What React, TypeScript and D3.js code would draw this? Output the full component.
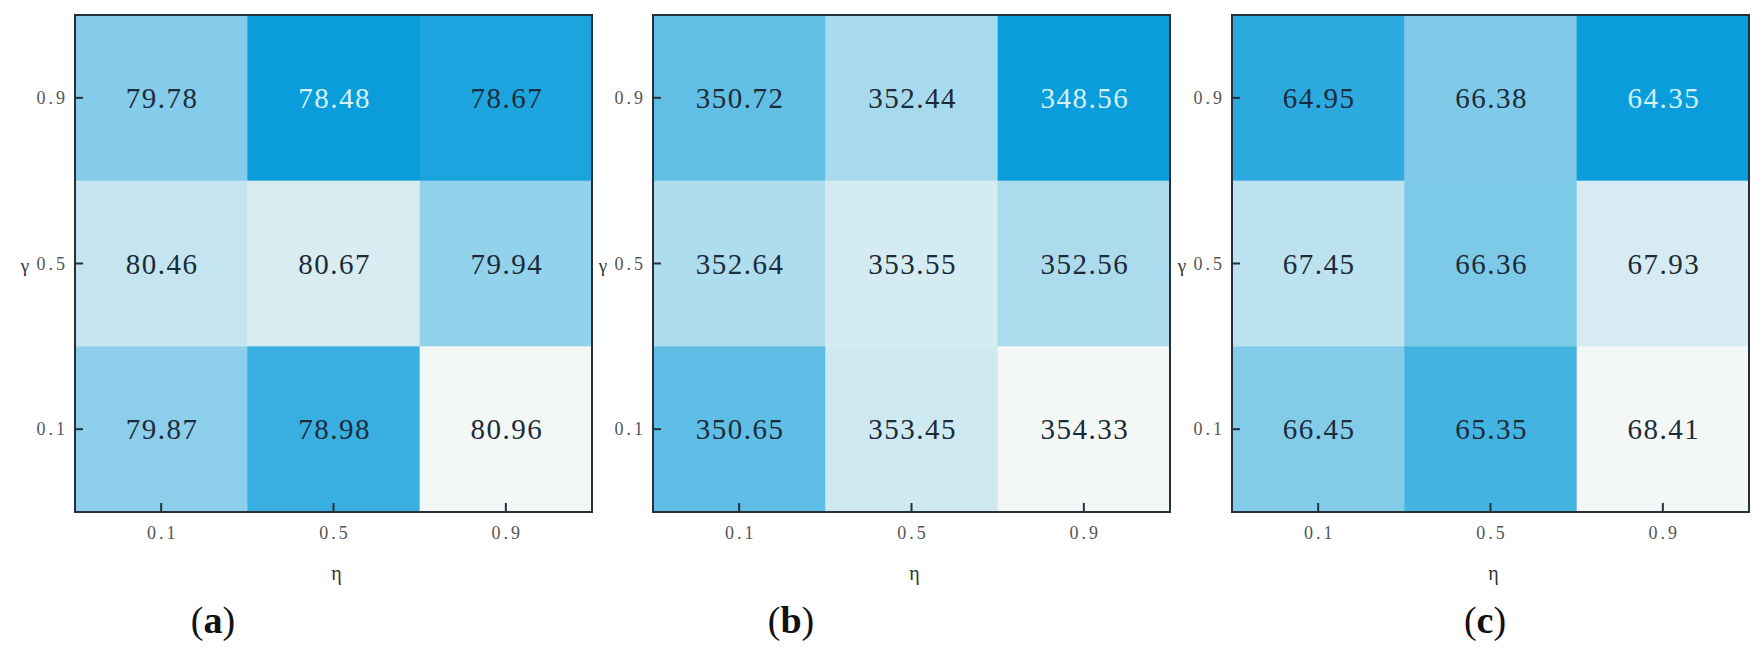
import React from "react";
import * as d3 from "d3";

const etaLabels = ["0.1", "0.5", "0.9"];
const gammaLabels = ["0.9", "0.5", "0.1"]; // top to bottom
const panelLetters = ["a", "b", "c"];

// rows ordered by gamma top-to-bottom (0.9, 0.5, 0.1), columns by eta (0.1, 0.5, 0.9)
const valuesA = [
  [79.78, 78.48, 78.67],
  [80.46, 80.67, 79.94],
  [79.87, 78.98, 80.96],
];
const valuesB = [
  [350.72, 352.44, 348.56],
  [352.64, 353.55, 352.56],
  [350.65, 353.45, 354.33],
];
const valuesC = [
  [64.95, 66.38, 64.35],
  [67.45, 66.36, 67.93],
  [66.45, 65.35, 68.41],
];
const panels = [valuesA, valuesB, valuesC];

const W = 1764;
const H = 657;
const panelLefts = [75, 653, 1232];
const panelW = 517;
const top = 15;
const bottom = 512;
const letterOffsets = [138, 138, 253];

const serif = "'Liberation Serif', 'DejaVu Serif', serif";

function Panel({ values, left, letter, letterOffset }: any) {
  const x = d3.scaleBand().domain(etaLabels).range([left, left + panelW]);
  const y = d3.scaleBand().domain(gammaLabels).range([top, bottom]);
  const flat = values.flat();
  const [mn, mx] = d3.extent(flat) as [number, number];
  const color = d3
    .scaleLinear<string>()
    .domain([mn, mx])
    .range(["#0a9ddc", "#f3f7f5"])
    .interpolate(d3.interpolateRgb);
  const bw = x.bandwidth();
  const bh = y.bandwidth();
  return (
    <g>
      {values.map((row: number[], ri: number) =>
        row.map((v: number, ci: number) => {
          const cx = x(etaLabels[ci])!;
          const cy = y(gammaLabels[ri])!;
          const t = (v - mn) / (mx - mn);
          return (
            <g key={`${ri}-${ci}`}>
              <rect x={cx} y={cy} width={bw + 0.5} height={bh + 0.5} fill={color(v)} />
              <text
                x={cx + bw / 2 + 1}
                y={cy + bh / 2}
                textAnchor="middle"
                dominantBaseline="central"
                fontFamily={serif}
                fontSize={29}
                letterSpacing={1.5}
                fill={t < 0.05 ? "#d6f1f8" : "#1c2b3a"}
              >
                {v.toFixed(2)}
              </text>
            </g>
          );
        })
      )}
      <rect
        x={left}
        y={top}
        width={panelW}
        height={bottom - top}
        fill="none"
        stroke="#26303a"
        strokeWidth={2}
      />
      {gammaLabels.map((g) => {
        const cy = y(g)! + bh / 2;
        return (
          <g key={"y" + g}>
            <line x1={left} x2={left + 8} y1={cy} y2={cy} stroke="#26303a" strokeWidth={2} />
            <text
              x={left - 7}
              y={cy}
              textAnchor="end"
              dominantBaseline="central"
              fontFamily={serif}
              fontSize={18}
              letterSpacing={3}
              fill="#555"
            >
              {g}
            </text>
          </g>
        );
      })}
      {etaLabels.map((e) => {
        const cx = x(e)! + bw / 2;
        return (
          <g key={"x" + e}>
            <line x1={cx} x2={cx} y1={bottom} y2={bottom - 9} stroke="#26303a" strokeWidth={2} />
            <text
              x={cx + 1.5}
              y={533}
              textAnchor="middle"
              dominantBaseline="central"
              fontFamily={serif}
              fontSize={18}
              letterSpacing={3}
              fill="#555"
            >
              {e}
            </text>
          </g>
        );
      })}
      <text
        x={left - 50}
        y={y("0.5")! + bh / 2 + 2}
        textAnchor="middle"
        dominantBaseline="central"
        fontFamily={serif}
        fontSize={19}
        fill="#333"
      >
        γ
      </text>
      <text
        x={left + panelW / 2 + 3}
        y={573}
        textAnchor="middle"
        dominantBaseline="central"
        fontFamily={serif}
        fontSize={20}
        fill="#333"
      >
        η
      </text>
      <text
        x={left + letterOffset}
        y={620}
        textAnchor="middle"
        dominantBaseline="central"
        fontFamily={serif}
        fontSize={38}
        fill="#111"
      >
        (<tspan fontWeight="bold">{letter}</tspan>)
      </text>
    </g>
  );
}

export default function App() {
  return (
    <div style={{ position: "absolute", left: 0, top: 0 }}>
      <svg width={W} height={H} style={{ display: "block", background: "#fff" }}>
        {panels.map((vals, i) => (
          <Panel
            key={i}
            values={vals}
            left={panelLefts[i]}
            letter={panelLetters[i]}
            letterOffset={letterOffsets[i]}
          />
        ))}
      </svg>
    </div>
  );
}
